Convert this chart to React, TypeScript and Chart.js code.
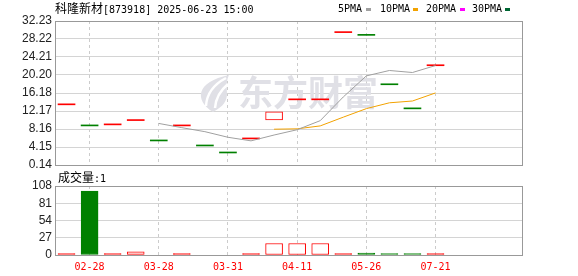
import React, { useEffect, useRef } from 'react';
import { Chart, registerables } from 'chart.js';

Chart.register(...registerables);

// ---- data ----
const dayIndex = [0, 1, 2, 3, 4, 5, 6, 7, 8, 9, 10, 11, 12, 13, 14, 15, 16];
const opens = [13.55, 8.85, 9.08, 10.04, 5.5, 8.85, 4.38, 2.82, 5.95, 10.19, 14.66, 14.66, 29.64, 29.03, 18.02, 12.65, 22.26];
const closes = [13.55, 8.85, 9.08, 10.04, 5.5, 8.85, 4.38, 2.82, 5.95, 11.98, 14.66, 14.66, 29.64, 29.03, 18.02, 12.65, 22.26];
const volumes: (number | null)[] = [1, 100, 1, 5, null, 1, null, null, 1, 18, 18, 18, 1, 3, 1, 1, 1];
const ma5: (number | null)[] = [null, null, null, null, 9.4, 8.46, 7.57, 6.32, 5.52, 6.82, 8.0, 10.02, 15.3, 20.0, 21.2, 20.75, 22.3];
const ma10: (number | null)[] = [null, null, null, null, null, null, null, null, null, 8.12, 8.2, 8.85, 10.8, 12.7, 14.0, 14.4, 16.2];
const tickIndex = [1, 4, 7, 10, 13, 16];
const tickDates = ['02-28', '03-28', '03-31', '04-11', '05-26', '07-21'];
const priceTicks = [0.14, 4.15, 8.16, 12.17, 16.18, 20.2, 24.21, 28.22, 32.23];
const volumeTicks = [0, 27, 54, 81, 108];

const RED = '#ff0000';
const GREEN = '#008000';
const up = closes.map((c, i) => i === 0 || c >= closes[i - 1]);

const framePlugin = {
  id: 'frame',
  afterDraw(chart: any) {
    const { ctx, chartArea } = chart;
    const { left, top, right, bottom } = chartArea;
    ctx.save();
    ctx.strokeStyle = '#999999';
    ctx.lineWidth = 1;
    ctx.strokeRect(Math.round(left) + 0.5, Math.round(top) + 0.5, Math.round(right - left), Math.round(bottom - top));
    ctx.restore();
  },
};

const watermarkPlugin = {
  id: 'watermark',
  beforeDatasetsDraw(chart: any) {
    const { ctx } = chart;
    ctx.save();
    ctx.fillStyle = 'rgba(224,224,230,1)';
    ctx.beginPath();
    ctx.moveTo(213, 112);
    ctx.bezierCurveTo(194, 100, 196, 82, 229, 75);
    ctx.bezierCurveTo(222, 90, 236, 100, 213, 112);
    ctx.fill();
    ctx.strokeStyle = '#ffffff';
    ctx.lineWidth = 2.5;
    ctx.beginPath();
    ctx.moveTo(206, 106);
    ctx.quadraticCurveTo(207, 88, 226, 78);
    ctx.stroke();
    ctx.beginPath();
    ctx.moveTo(215, 108);
    ctx.quadraticCurveTo(216, 94, 228, 84);
    ctx.stroke();
    ctx.fillStyle = 'rgba(224,224,230,1)';
    ctx.font = 'bold 35px "Noto Sans CJK SC"';
    ctx.textBaseline = 'middle';
    ctx.textAlign = 'left';
    ctx.fillText('东方财富', 238, 93);
    ctx.restore();
  },
};

const xScaleBase = (showLabels: boolean) => ({
  type: 'linear' as const,
  min: -0.5,
  max: 19.75,
  offset: false,
  afterBuildTicks: (s: any) => {
    s.ticks = tickIndex.map((v) => ({ value: v }));
  },
  afterFit: (s: any) => {
    s.height = showLabels ? 21 : 0;
  },
  grid: { offset: false, color: '#cccccc', lineWidth: 1, drawTicks: false },
  border: { display: false, dash: [3, 3] },
  ticks: {
    display: showLabels,
    autoSkip: false,
    maxRotation: 0,
    padding: 6,
    color: RED,
    font: { family: '"DejaVu Sans Mono"', size: 10 },
    callback: (v: any) => {
      const k = tickIndex.indexOf(Number(v));
      return k >= 0 ? tickDates[k] : '';
    },
  },
});

const yFont = { family: '"Liberation Sans"', size: 12 };

export default function App() {
  const priceRef = useRef<HTMLCanvasElement>(null);
  const volRef = useRef<HTMLCanvasElement>(null);

  useEffect(() => {
    const price = new Chart(priceRef.current!, {
      type: 'bar',
      data: {
        datasets: [
          {
            type: 'line',
            label: 'MA5',
            order: 0,
            data: dayIndex.filter((i) => ma5[i] !== null).map((i) => ({ x: i, y: ma5[i] as number })),
            borderColor: '#a0a0a0',
            borderWidth: 1,
            pointRadius: 0,
            tension: 0,
          },
          {
            type: 'line',
            label: 'MA10',
            order: 0,
            data: dayIndex.filter((i) => ma10[i] !== null).map((i) => ({ x: i, y: ma10[i] as number })),
            borderColor: '#f2a200',
            borderWidth: 1,
            pointRadius: 0,
            tension: 0,
          },
          {
            type: 'bar',
            label: 'K',
            order: 1,
            data: dayIndex.map((i) => ({ x: i, y: [opens[i], closes[i]] })) as any,
            backgroundColor: dayIndex.map((i) => (!up[i] ? GREEN : closes[i] > opens[i] ? '#ffffff' : RED)),
            borderColor: dayIndex.map((i) => (up[i] ? RED : GREEN)),
            borderWidth: dayIndex.map((i) => (closes[i] !== opens[i] ? 1 : 0)),
            borderSkipped: false,
            barThickness: 17,
            minBarLength: 1,
          } as any,
        ],
      },
      options: {
        animation: false,
        responsive: false,
        devicePixelRatio: 1,
        layout: { padding: { top: 21, bottom: 111, left: 0, right: 56 } },
        plugins: { legend: { display: false }, tooltip: { enabled: false } },
        scales: {
          x: xScaleBase(false) as any,
          y: {
            type: 'linear',
            min: 0.14,
            max: 32.23,
            beginAtZero: false,
            afterBuildTicks: (s: any) => {
              s.ticks = priceTicks.map((v) => ({ value: v }));
            },
            afterFit: (s: any) => {
              s.width = 55;
            },
            grid: { color: '#d4d4d4', lineWidth: 1, drawTicks: false },
            border: { display: false },
            ticks: {
              autoSkip: false,
              padding: 3,
              color: '#222222',
              font: yFont,
              callback: (v: any) => Number(v).toFixed(2),
            },
          },
        },
      },
      plugins: [watermarkPlugin, framePlugin],
    });

    const vol = new Chart(volRef.current!, {
      type: 'bar',
      data: {
        datasets: [
          {
            label: 'VOL',
            data: dayIndex.map((i) => ({ x: i, y: volumes[i] })) as any,
            backgroundColor: dayIndex.map((i) => (!up[i] ? GREEN : (volumes[i] ?? 0) > 3 ? '#ffffff' : RED)),
            borderColor: dayIndex.map((i) => (up[i] ? RED : GREEN)),
            borderWidth: 1,
            borderSkipped: false,
            barThickness: 17,
            minBarLength: 1.5,
          } as any,
        ],
      },
      options: {
        animation: false,
        responsive: false,
        devicePixelRatio: 1,
        layout: { padding: { top: 186, bottom: 0, left: 0, right: 56 } },
        plugins: { legend: { display: false }, tooltip: { enabled: false } },
        scales: {
          x: xScaleBase(true) as any,
          y: {
            type: 'linear',
            min: 0,
            max: 108,
            afterBuildTicks: (s: any) => {
              s.ticks = volumeTicks.map((v) => ({ value: v }));
            },
            afterFit: (s: any) => {
              s.width = 55;
            },
            grid: { color: '#d4d4d4', lineWidth: 1, drawTicks: false },
            border: { display: false },
            ticks: {
              autoSkip: false,
              padding: 3,
              color: '#222222',
              font: yFont,
            },
          },
        },
      },
      plugins: [framePlugin],
    });

    return () => {
      price.destroy();
      vol.destroy();
    };
  }, []);

  const mono = '"DejaVu Sans Mono", monospace';
  const cjk = '"Noto Sans CJK SC", sans-serif';
  const textBase: React.CSSProperties = {
    position: 'absolute',
    fontFamily: mono,
    fontSize: 10,
    lineHeight: '12px',
    color: '#000',
    whiteSpace: 'nowrap',
  };
  const legend = [
    { name: '5PMA', x: 338, sq: 366, color: '#a0a0a0' },
    { name: '10PMA', x: 380, sq: 413, color: '#f2a200' },
    { name: '20PMA', x: 426, sq: 460, color: '#ff00ff' },
    { name: '30PMA', x: 472, sq: 505, color: '#006633' },
  ];

  return (
    <div style={{ position: 'absolute', left: 0, top: 0, width: 578, height: 276, background: '#ffffff', overflow: 'hidden' }}>
      <canvas ref={volRef} width={578} height={276} style={{ position: 'absolute', left: 0, top: 0 }} />
      <canvas ref={priceRef} width={578} height={276} style={{ position: 'absolute', left: 0, top: 0 }} />
      <div style={{ ...textBase, left: 55, top: 2 }}>
        <span style={{ fontFamily: cjk, fontSize: 12 }}>科隆新材</span>[873918] 2025-06-23 15:00
      </div>
      {legend.map((l) => (
        <React.Fragment key={l.name}>
          <div style={{ ...textBase, left: l.x, top: 3 }}>{l.name}</div>
          <div style={{ position: 'absolute', left: l.sq, top: 8, width: 5, height: 3, background: l.color }} />
        </React.Fragment>
      ))}
      <div style={{ ...textBase, left: 58, top: 171 }}>
        <span style={{ fontFamily: cjk, fontSize: 12 }}>成交量</span>:1
      </div>
    </div>
  );
}
